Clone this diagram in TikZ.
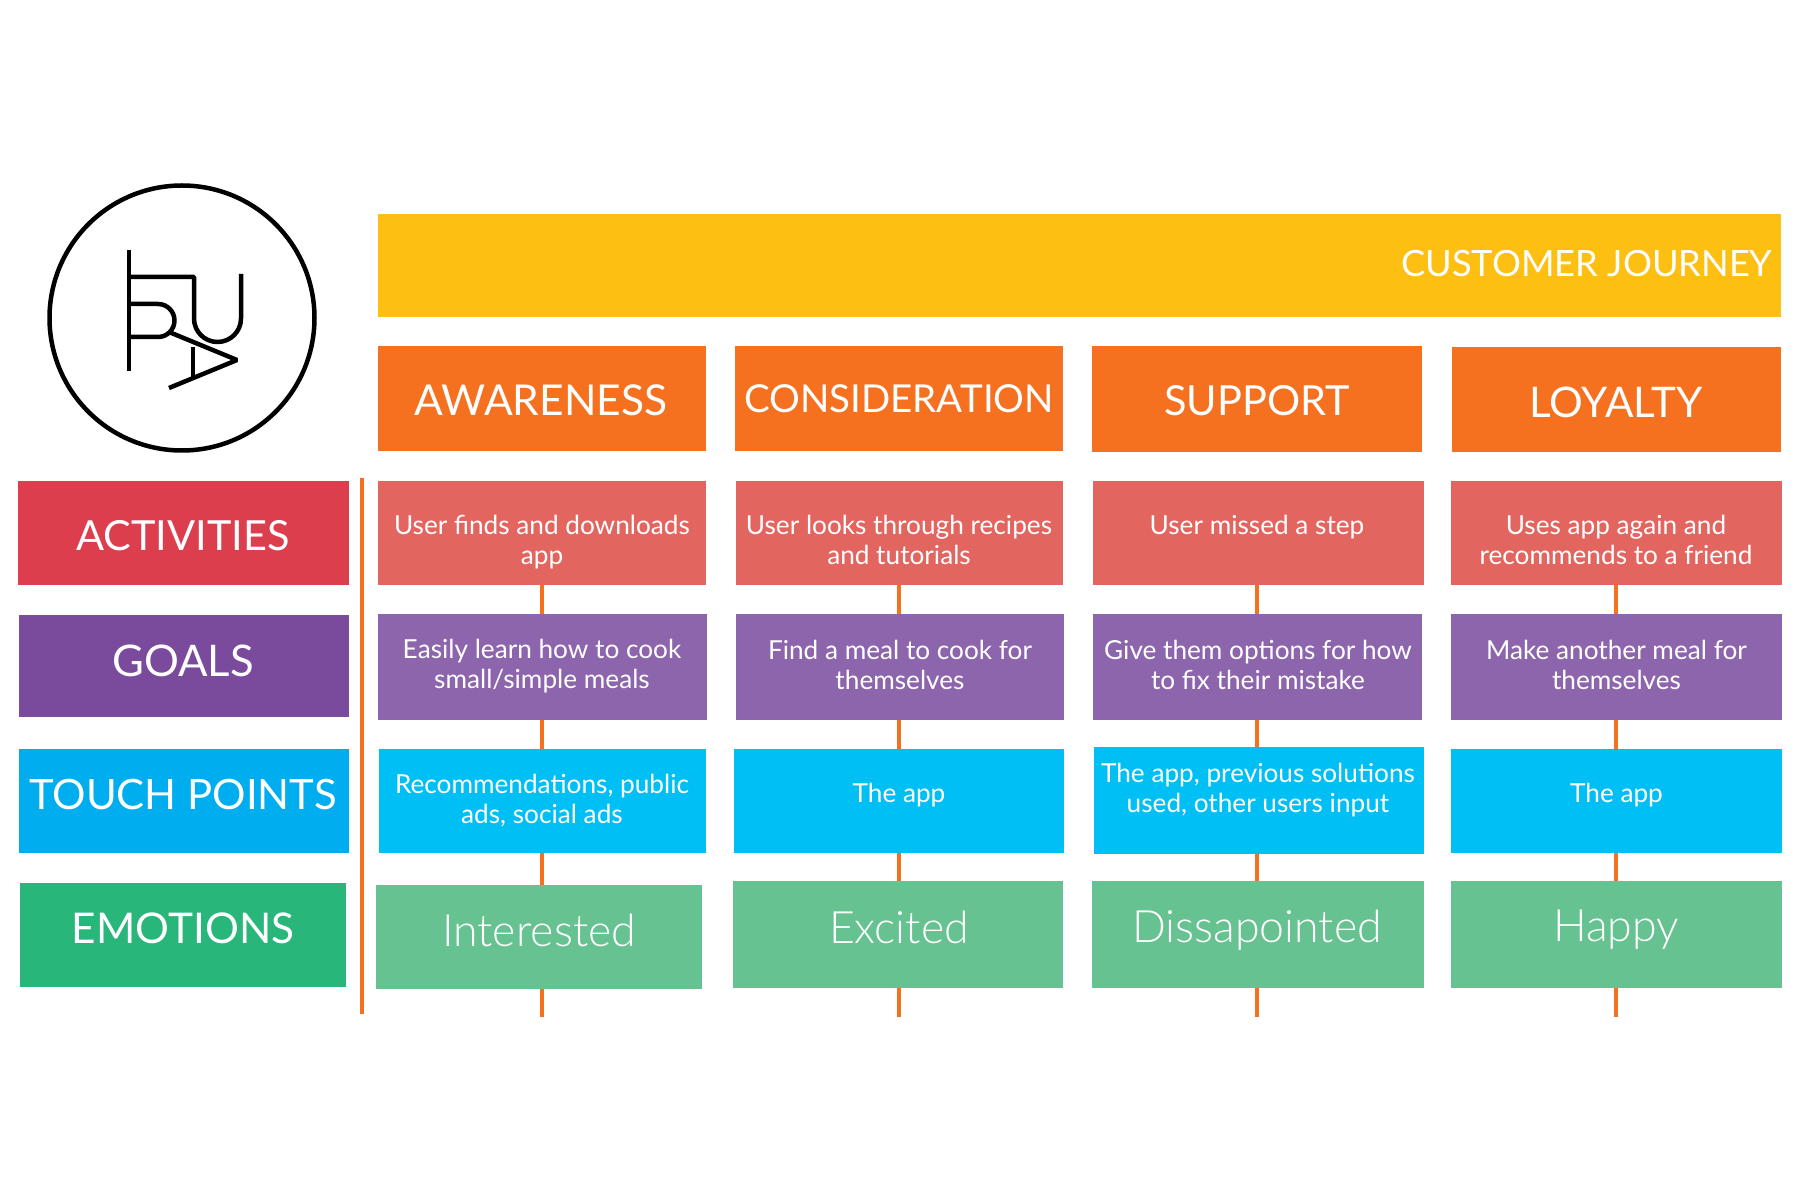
\documentclass[tikz,border=0pt]{standalone}
\usepackage{fontspec}
\setmainfont{Lato}
\newfontfamily\lightfont{Lato Light}
\definecolor{gold}{HTML}{FDBF12}
\definecolor{tangerine}{HTML}{F57120}
\definecolor{rowred}{HTML}{DC3E4E}
\definecolor{cellred}{HTML}{E26560}
\definecolor{rowpurple}{HTML}{7A4A9C}
\definecolor{cellpurple}{HTML}{8C65AC}
\definecolor{rowblue}{HTML}{00AEEF}
\definecolor{cellblue}{HTML}{00BFF5}
\definecolor{rowgreen}{HTML}{29B67A}
\definecolor{cellgreen}{HTML}{66C290}
\tikzset{
  tile/.style={rectangle,inner sep=0pt,outer sep=0pt,draw=none},
  headtxt/.style={text=white,inner sep=0pt,font=\fontsize{#1}{14}\selectfont},
  celltxt/.style={text=white,inner sep=0pt,align=center,font=\fontsize{7.45}{8.5}\selectfont},
  emotxt/.style={text=white,inner sep=0pt,font=\fontsize{12.7}{15}\lightfont},
  link/.style={tangerine,line width=0.04cm},
  logoline/.style={black,line width=0.045cm,line join=bevel}
}
\begin{document}
\begin{tikzpicture}
\useasboundingbox (0,0) rectangle (18,12);

% logo
\node[circle,draw=black,line width=0.045cm,minimum size=2.65cm,inner sep=0pt] (logo) at (1.82,8.82) {};
\draw[logoline] (1.29,9.50) -- (1.29,8.29);
\draw[logoline] (1.29,9.23) -- (1.94,9.23) -- (1.94,8.815) arc (180:360:0.235) -- (2.41,9.26);
\draw[logoline] (1.29,8.96) -- (1.58,8.96) arc (90:-90:0.165) -- (1.29,8.63);
\draw[logoline] (1.69,8.68) -- (2.37,8.40) -- (1.69,8.12);
\draw[logoline] (1.93,8.53) -- (1.93,8.23);

% top band
\node[tile,fill=gold,minimum width=14.03cm,minimum height=1.03cm] (band) at (10.795,9.345) {};
\node[headtxt=10.3,anchor=east] (bandtxt) at (17.73,9.36) {CUSTOMER JOURNEY};

% stages
\foreach \nm/\cx/\cy/\w/\h in {hd1/5.42/8.015/3.28/1.05,hd2/8.99/8.015/3.28/1.05,hd3/12.57/8.01/3.30/1.06,hd4/16.16/8.005/3.29/1.05}
  \node[tile,fill=tangerine,minimum width=\w cm,minimum height=\h cm] (\nm) at (\cx,\cy) {};
\node[headtxt=12.1] (hd1txt) at (5.41,8.00) {AWARENESS};
\node[headtxt=10.95] (hd2txt) at (8.99,8.01) {CONSIDERATION};
\node[headtxt=11.8] (hd3txt) at (12.57,7.99) {SUPPORT};
\node[headtxt=12] (hd4txt) at (16.16,7.98) {LOYALTY};

% row titles
\node[tile,fill=rowred,minimum width=3.31cm,minimum height=1.04cm] (row1) at (1.835,6.67) {};
\node[tile,fill=rowpurple,minimum width=3.30cm,minimum height=1.02cm] (row2) at (1.84,5.34) {};
\node[tile,fill=rowblue,minimum width=3.30cm,minimum height=1.04cm] (row3) at (1.84,3.99) {};
\node[tile,fill=rowgreen,minimum width=3.26cm,minimum height=1.04cm] (row4) at (1.83,2.65) {};
\node[headtxt=11.8] (row1txt) at (1.83,6.64) {ACTIVITIES};
\node[headtxt=12.4] (row2txt) at (1.83,5.39) {GOALS};
\node[headtxt=11.9] (row3txt) at (1.83,4.05) {TOUCH POINTS};
\node[headtxt=12.05] (row4txt) at (1.83,2.72) {EMOTIONS};

% activities
\foreach \nm/\cx/\w in {act1/5.42/3.28,act2/8.995/3.27,act3/12.585/3.31,act4/16.165/3.31}
  \node[tile,fill=cellred,minimum width=\w cm,minimum height=1.04cm] (\nm) at (\cx,6.67) {};
\node[celltxt] (act1txt) at (5.42,6.58) {User finds and downloads\\app};
\node[celltxt] (act2txt) at (8.99,6.60) {User looks through recipes\\and tutorials};
\node[celltxt] (act3txt) at (12.57,6.73) {User missed a step};
\node[celltxt] (act4txt) at (16.16,6.60) {Uses app again and\\recommends to a friend};

% goals
\foreach \nm/\cx/\w in {goal1/5.425/3.29,goal2/9.00/3.28,goal3/12.575/3.29,goal4/16.165/3.31}
  \node[tile,fill=cellpurple,minimum width=\w cm,minimum height=1.06cm] (\nm) at (\cx,5.33) {};
\node[celltxt] (goal1txt) at (5.42,5.34) {Easily learn how to cook\\small/simple meals};
\node[celltxt] (goal2txt) at (9.00,5.35) {Find a meal to cook for\\themselves};
\node[celltxt] (goal3txt) at (12.58,5.35) {Give them options for how\\to fix their mistake};
\node[celltxt] (goal4txt) at (16.165,5.35) {Make another meal for\\themselves};

% touch points
\foreach \nm/\cx/\w/\h in {touch1/5.425/3.27/1.04,touch2/8.99/3.30/1.04,touch3/12.59/3.30/1.07,touch4/16.165/3.31/1.04}
  \node[tile,fill=cellblue,minimum width=\w cm,minimum height=\h cm] (\nm) at (\cx,3.99) {};
\node[celltxt] (touch1txt) at (5.42,3.99) {Recommendations, public\\ads, social ads};
\node[celltxt] (touch2txt) at (8.99,4.05) {The app};
\node[celltxt] (touch3txt) at (12.58,4.10) {The app, previous solutions\\used, other users input};
\node[celltxt] (touch4txt) at (16.165,4.05) {The app};

% emotions
\node[tile,fill=cellgreen,minimum width=3.26cm,minimum height=1.04cm] (emo1) at (5.39,2.63) {};
\foreach \nm/\cx/\w in {emo2/8.98/3.30,emo3/12.58/3.32,emo4/16.165/3.31}
  \node[tile,fill=cellgreen,minimum width=\w cm,minimum height=1.07cm] (\nm) at (\cx,2.655) {};
\node[emotxt] (emo1txt) at (5.39,2.70) {Interested};
\node[emotxt] (emo2txt) at (8.99,2.73) {Excited};
\node[emotxt] (emo3txt) at (12.57,2.70) {Dissapointed};
\node[emotxt] (emo4txt) at (16.16,2.70) {Happy};

% connectors
\coordinate (spinetop) at (3.62,7.22);
\coordinate (spinebot) at (3.62,1.86);
\draw[link] (spinetop) -- (spinebot);
\foreach \c in {1,...,4} {
  \coordinate (end\c) at (hd\c.south |- 0,1.83);
  \draw[link] (hd\c.south |- act\c.south) -- (hd\c.south |- goal\c.north);
  \draw[link] (hd\c.south |- goal\c.south) -- (hd\c.south |- touch\c.north);
  \draw[link] (hd\c.south |- touch\c.south) -- (hd\c.south |- emo\c.north);
  \draw[link] (hd\c.south |- emo\c.south) -- (end\c);
}
\end{tikzpicture}
\end{document}
